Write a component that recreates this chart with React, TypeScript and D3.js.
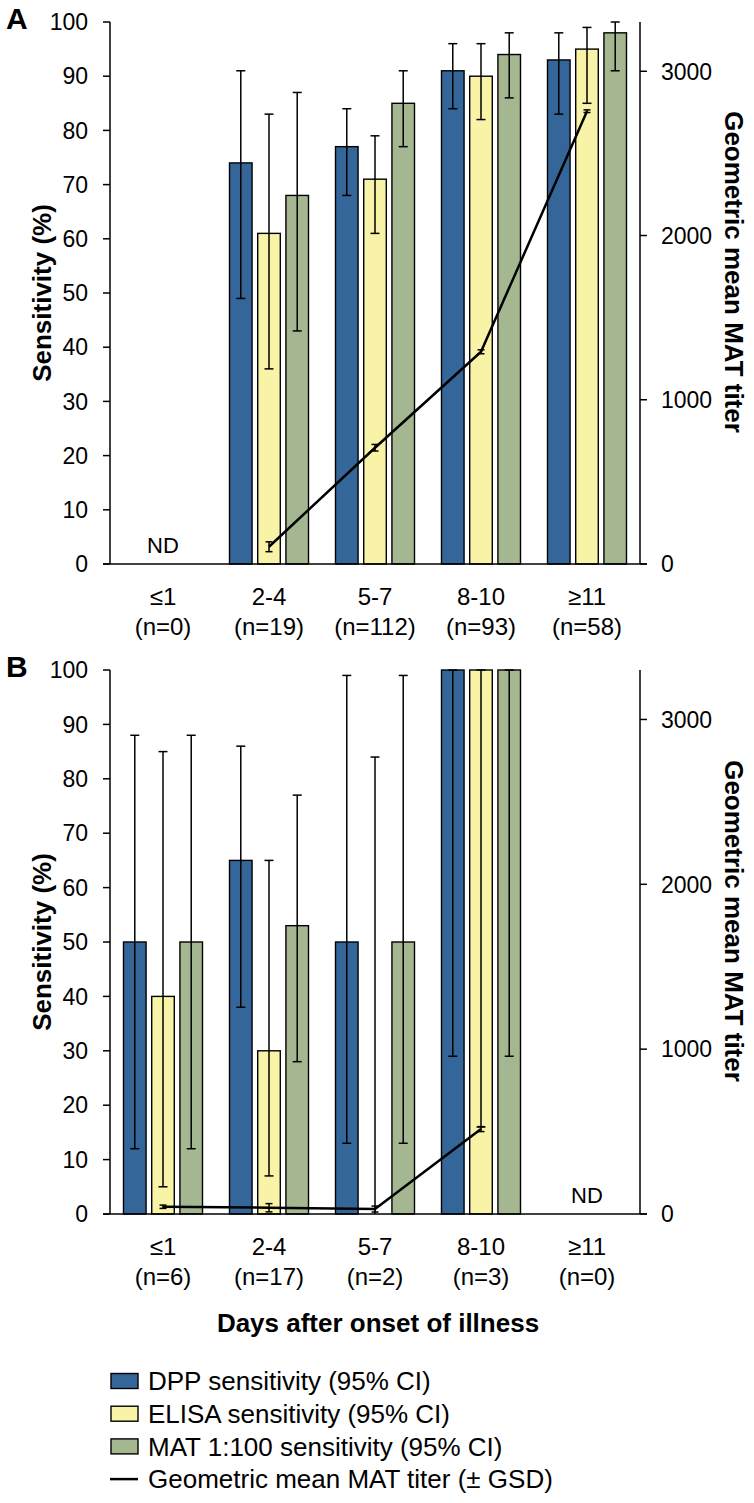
import React from "react";
import * as d3 from "d3";

// x categories (days after onset)
const categories = ["≤1", "2-4", "5-7", "8-10", "≥11"];
const countsA = ["(n=0)", "(n=19)", "(n=112)", "(n=93)", "(n=58)"];
const countsB = ["(n=6)", "(n=17)", "(n=2)", "(n=3)", "(n=0)"];
const series = ["DPP", "ELISA", "MAT"];
const seriesLabels = [
  "DPP sensitivity (95% CI)",
  "ELISA sensitivity (95% CI)",
  "MAT 1:100 sensitivity (95% CI)",
];
const lineLabel = "Geometric mean MAT titer (± GSD)";
const colors = ["#346699", "#F8F3A6", "#A4B790"];

const leftTicks = [0, 10, 20, 30, 40, 50, 60, 70, 80, 90, 100];
const rightTicks = [0, 1000, 2000, 3000];

// panel A
const dppA = [null, 74, 77, 91, 93];
const dppCiA = [null, [49, 91], [68, 84], [84, 96], [83, 98]];
const elisaA = [null, 61, 71, 90, 95];
const elisaCiA = [null, [36, 83], [61, 79], [82, 96], [85, 99]];
const matA = [null, 68, 85, 94, 98];
const matCiA = [null, [43, 87], [77, 91], [86, 98], [91, 100]];
const titerA = [null, 105, 708, 1292, 2757];
const gsdA = [null, 30, 20, 12, 8];

// panel B
const dppB = [50, 65, 50, 100, null];
const dppCiB = [[12, 88], [38, 86], [13, 99], [29, 100], null];
const elisaB = [40, 30, 0, 100, null];
const elisaCiB = [[5, 85], [7, 65], [0, 84], [16, 100], null];
const matB = [50, 53, 50, 100, null];
const matCiB = [[12, 88], [28, 77], [13, 99], [29, 100], null];
const titerB = [44, 38, 30, 515, null];
const gsdB = [10, 25, 18, 15, null];

const FONT = "'Liberation Sans', Arial, Helvetica, sans-serif";
const LEFT = 110;
const RIGHT = 640;

const x0 = d3.scaleBand<string>().domain(categories).range([LEFT, RIGHT]);
const x1 = d3
  .scaleBand<string>()
  .domain(series)
  .range([-39.5, 39.5])
  .paddingInner(0.2);

type PanelProps = {
  letter: string;
  top: number;
  bottom: number;
  counts: string[];
  values: (number | null)[][];
  cis: (number[] | null)[][];
  titer: (number | null)[];
  gsd: (number | null)[];
  ndIndex: number;
};

const Panel = ({ letter, top, bottom, counts, values, cis, titer, gsd, ndIndex }: PanelProps) => {
  const yL = d3.scaleLinear().domain([0, 100]).range([bottom, top]);
  const yR = d3.scaleLinear().domain([0, 3300]).range([bottom, top]);
  const mid = (c: string) => (x0(c) as number) + x0.bandwidth() / 2;

  const pts = categories
    .map((c, i) => ({ c, v: titer[i], g: gsd[i] }))
    .filter((d) => d.v != null) as { c: string; v: number; g: number }[];
  const line = d3
    .line<{ c: string; v: number }>()
    .x((d) => mid(d.c))
    .y((d) => yR(d.v));

  const center = (top + bottom) / 2;

  return (
    <g>
      <text x={6} y={top + 7} fontSize={30} fontWeight="bold" fontFamily={FONT}>
        {letter}
      </text>
      {/* bars */}
      {series.map((s, si) =>
        categories.map((c, ci) => {
          const v = values[si][ci];
          if (v == null || v === 0) return null;
          return (
            <rect
              key={s + c}
              x={mid(c) + (x1(s) as number)}
              y={yL(v)}
              width={x1.bandwidth()}
              height={bottom - yL(v)}
              fill={colors[si]}
              stroke="#000"
              strokeWidth={1.4}
            />
          );
        })
      )}
      {/* CI error bars */}
      {series.map((s, si) =>
        categories.map((c, ci) => {
          const ci2 = cis[si][ci];
          if (!ci2) return null;
          const cx = mid(c) + (x1(s) as number) + x1.bandwidth() / 2;
          return (
            <g key={"e" + s + c} stroke="#000" strokeWidth={1.5}>
              <line x1={cx} x2={cx} y1={yL(ci2[0])} y2={yL(ci2[1])} />
              <line x1={cx - 4.5} x2={cx + 4.5} y1={yL(ci2[1])} y2={yL(ci2[1])} />
              {ci2[0] > 0 && (
                <line x1={cx - 4.5} x2={cx + 4.5} y1={yL(ci2[0])} y2={yL(ci2[0])} />
              )}
            </g>
          );
        })
      )}
      {/* titer line */}
      <path d={line(pts) || ""} fill="none" stroke="#000" strokeWidth={2.5} strokeLinejoin="round" />
      {pts.map((d) => (
        <g key={"g" + d.c} stroke="#000" strokeWidth={1.5}>
          <line x1={mid(d.c)} x2={mid(d.c)} y1={yR(d.v - d.g)} y2={yR(d.v + d.g)} />
          <line x1={mid(d.c) - 3.5} x2={mid(d.c) + 3.5} y1={yR(d.v - d.g)} y2={yR(d.v - d.g)} />
          <line x1={mid(d.c) - 3.5} x2={mid(d.c) + 3.5} y1={yR(d.v + d.g)} y2={yR(d.v + d.g)} />
        </g>
      ))}
      {/* axes */}
      <g stroke="#000" strokeWidth={1.5}>
        <line x1={LEFT} x2={LEFT} y1={top} y2={bottom} />
        <line x1={RIGHT} x2={RIGHT} y1={top} y2={bottom} />
        <line x1={LEFT - 7} x2={RIGHT + 7} y1={bottom} y2={bottom} />
        {leftTicks.map((t) => (
          <line key={"lt" + t} x1={LEFT - 7} x2={LEFT} y1={yL(t)} y2={yL(t)} />
        ))}
        {rightTicks.map((t) => (
          <line key={"rt" + t} x1={RIGHT} x2={RIGHT + 7} y1={yR(t)} y2={yR(t)} />
        ))}
      </g>
      <g fontFamily={FONT} fontSize={23} fill="#000">
        {leftTicks.map((t) => (
          <text key={"l" + t} x={LEFT - 22} y={yL(t)} dy="0.36em" textAnchor="end">
            {t}
          </text>
        ))}
        {rightTicks.map((t) => (
          <text key={"r" + t} x={RIGHT + 21} y={yR(t)} dy="0.36em">
            {t}
          </text>
        ))}
      </g>
      <g fontFamily={FONT} fontSize={24} textAnchor="middle">
        {categories.map((c, i) => (
          <g key={"c" + c}>
            <text x={mid(c)} y={bottom + 41}>
              {c}
            </text>
            <text x={mid(c)} y={bottom + 71}>
              {counts[i]}
            </text>
          </g>
        ))}
        <text x={mid(categories[ndIndex])} y={bottom - 11} fontSize={22}>
          ND
        </text>
      </g>
      <text
        transform={`translate(51,${center}) rotate(-90)`}
        textAnchor="middle"
        fontFamily={FONT}
        fontWeight="bold"
        fontSize={26}
      >
        Sensitivity (%)
      </text>
      <text
        transform={`translate(725,${center - 21}) rotate(90)`}
        textAnchor="middle"
        fontFamily={FONT}
        fontWeight="bold"
        fontSize={26}
      >
        Geometric mean MAT titer
      </text>
    </g>
  );
};

export default function App() {
  return (
    <div>
      <style>{`body{margin:0}`}</style>
      <svg width={754} height={1503} style={{ display: "block", background: "#fff" }}>
        <Panel
          letter="A"
          top={22}
          bottom={564}
          counts={countsA}
          values={[dppA, elisaA, matA]}
          cis={[dppCiA, elisaCiA, matCiA]}
          titer={titerA}
          gsd={gsdA}
          ndIndex={0}
        />
        <Panel
          letter="B"
          top={670}
          bottom={1214}
          counts={countsB}
          values={[dppB, elisaB, matB]}
          cis={[dppCiB, elisaCiB, matCiB]}
          titer={titerB}
          gsd={gsdB}
          ndIndex={4}
        />
        <text
          x={378}
          y={1332}
          textAnchor="middle"
          fontFamily={FONT}
          fontWeight="bold"
          fontSize={26}
        >
          Days after onset of illness
        </text>
        <g fontFamily={FONT} fontSize={26}>
          {seriesLabels.map((l, i) => (
            <g key={l} transform={`translate(0,${1381 + i * 32.7})`}>
              <rect x={111} y={-7.5} width={27} height={15} fill={colors[i]} stroke="#000" strokeWidth={1.4} />
              <text x={148} y={0} dy="0.36em">
                {l}
              </text>
            </g>
          ))}
          <g transform={`translate(0,${1381 + 3 * 32.7})`}>
            <line x1={110} x2={138} y1={0} y2={0} stroke="#000" strokeWidth={2.5} />
            <text x={148} y={0} dy="0.36em">
              {lineLabel}
            </text>
          </g>
        </g>
      </svg>
    </div>
  );
}
